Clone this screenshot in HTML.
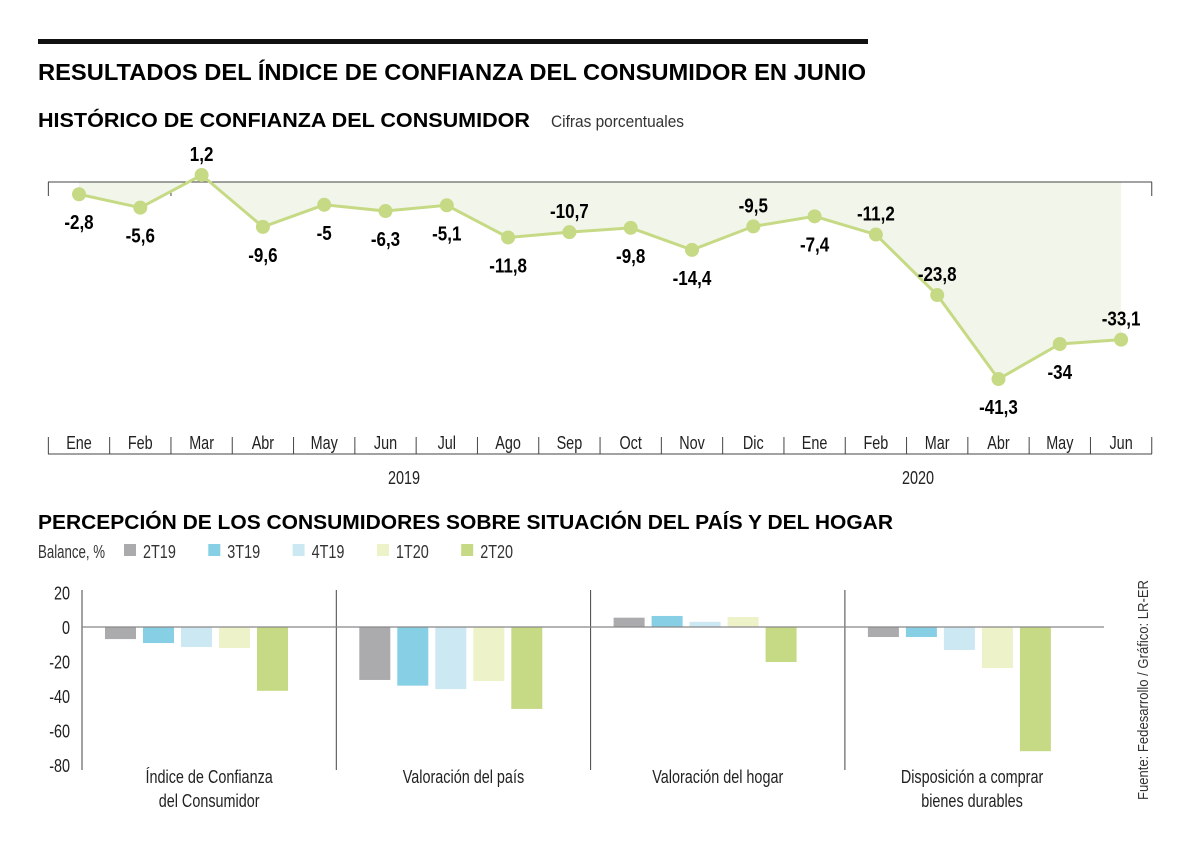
<!DOCTYPE html>
<html><head><meta charset="utf-8"><style>
body{margin:0;background:#fff;width:1200px;height:851px;overflow:hidden;font-family:"Liberation Sans Narrow","Liberation Sans",sans-serif;color:#111}
svg{position:absolute;left:0;top:0}
</style></head><body>
<svg width="1200" height="851" id="s">
<rect x="38" y="39" width="830" height="5" fill="#111"/>
<text x="38" y="80" font-size="23" font-weight="bold" textLength="828" lengthAdjust="spacingAndGlyphs">RESULTADOS DEL ÍNDICE DE CONFIANZA DEL CONSUMIDOR EN JUNIO</text>
<text x="38" y="127" font-size="20" font-weight="bold" textLength="492" lengthAdjust="spacingAndGlyphs">HISTÓRICO DE CONFIANZA DEL CONSUMIDOR</text>
<text x="551" y="127" font-size="17" fill="#333" textLength="133" lengthAdjust="spacingAndGlyphs">Cifras porcentuales</text>
<g id="line"></g>
<text x="38" y="529" font-size="20" font-weight="bold" textLength="855" lengthAdjust="spacingAndGlyphs">PERCEPCIÓN DE LOS CONSUMIDORES SOBRE SITUACIÓN DEL PAÍS Y DEL HOGAR</text>
<text x="38" y="558" font-size="18" fill="#333" textLength="67" lengthAdjust="spacingAndGlyphs">Balance, %</text>
<g id="legend"></g>
<g id="bars"></g>
<text transform="translate(1148,800) rotate(-90)" font-size="15" fill="#333" textLength="220" lengthAdjust="spacingAndGlyphs">Fuente: Fedesarrollo / Gráfico: LR-ER</text>
</svg>
<script>
const months=["Ene","Feb","Mar","Abr","May","Jun","Jul","Ago","Sep","Oct","Nov","Dic","Ene","Feb","Mar","Abr","May","Jun"];
const values=[-2.8,-5.6,1.2,-9.6,-5,-6.3,-5.1,-11.8,-10.7,-9.8,-14.4,-9.5,-7.4,-11.2,-23.8,-41.3,-34,-33.1];
const labelAbove=[0,0,1,0,0,0,0,0,1,0,0,1,0,1,1,0,0,1];
const years=["2019","2020"];
const categories=[["Índice de Confianza","del Consumidor"],["Valoración del país"],["Valoración del hogar"],["Disposición a comprar","bienes durables"]];
const seriesNames=["2T19","3T19","4T19","1T20","2T20"];
const s2T19=[-7,-30.7,5.4,-5.8];
const s3T19=[-9.3,-34,6.4,-5.8];
const s4T19=[-11.6,-36,3,-13.3];
const s1T20=[-12.2,-31.3,5.8,-23.8];
const s2T20=[-37,-47.5,-20.3,-72];
const barTicks=[20,0,-20,-40,-60,-80];
const colors=["#abaaad","#87cfe5","#cce8f2","#edf2c8","#c6da85"];
const NS="http://www.w3.org/2000/svg";
function mk(p,t,a,txt){const e=document.createElementNS(NS,t);for(const k in a)e.setAttribute(k,a[k]);if(txt!==undefined)e.textContent=txt;p.appendChild(e);return e;}
function narrow(t,f){try{const w=t.getComputedTextLength();t.setAttribute('textLength',w*f);t.setAttribute('lengthAdjust','spacingAndGlyphs');}catch(e){}}
const L=document.getElementById('line');
const lx=i=>79+i*61.3, ly=v=>180.8-v*4.8;
mk(L,'line',{x1:48,x2:1152,y1:454,y2:454,stroke:'#444','stroke-width':1});
for(let i=0;i<=months.length;i++){const x=lx(i)-30.65;
 mk(L,'line',{x1:x,x2:x,y1:182,y2:196,stroke:'#444'});
 mk(L,'line',{x1:x,x2:x,y1:437,y2:454,stroke:'#444'});}
let pts=values.map((v,i)=>lx(i)+','+ly(v)).join(' ');
const area=mk(L,'polygon',{points:lx(0)+',182 '+pts+' '+lx(values.length-1)+',182',fill:'#f2f6ea'});

mk(L,'line',{x1:48,x2:1152,y1:182,y2:182,stroke:'#444','stroke-width':1});
const pl=mk(L,'polyline',{points:pts,fill:'none',stroke:'#c6da85','stroke-width':3});

values.forEach((v,i)=>{const c=mk(L,'circle',{cx:lx(i),cy:ly(v),r:7,fill:'#c6da85'});
 
 const t=mk(L,'text',{x:lx(i),y:labelAbove[i]?ly(v)-14:ly(v)+35,'font-size':20,'font-weight':'bold','text-anchor':'middle'},String(v).replace('.',','));
 
 narrow(t,0.85);
 const m=mk(L,'text',{x:lx(i),y:449,'font-size':18,'text-anchor':'middle',fill:'#222'},months[i]);
 
 narrow(m,0.8);});
years.forEach((y,j)=>{const t=mk(L,'text',{x:j?918:404,y:484,'font-size':18,'text-anchor':'middle',fill:'#222'},y);
 narrow(t,0.8);});
const G=document.getElementById('legend');
seriesNames.forEach((n,i)=>{const x=124+i*84.3;
 const r=mk(G,'rect',{x:x,y:544,width:12,height:12,fill:colors[i]});
 
 const t=mk(G,'text',{x:x+19,y:558,'font-size':18,fill:'#333'},n);
 narrow(t,0.8);});
const B=document.getElementById('bars');
const by=v=>627-v*1.725;
const series=[s2T19,s3T19,s4T19,s1T20,s2T20];
barTicks.forEach(v=>{const t=mk(B,'text',{x:70,y:by(v)+7,'font-size':18,'text-anchor':'end',fill:'#222'},v);
 narrow(t,0.8);});
const gw=254.3;
for(let g=0;g<categories.length;g++){const x0=82+g*gw;
 series.forEach((s,k)=>{const v=s[g];const y=Math.min(by(v),by(0));
  const r=mk(B,'rect',{x:x0+23+k*38,y:y,width:31,height:Math.abs(by(v)-by(0)),fill:colors[k]});
  });
 categories[g].forEach((ln,j)=>{const t=mk(B,'text',{x:x0+gw/2,y:783+j*24,'font-size':18,'text-anchor':'middle',fill:'#222'},ln);
  narrow(t,0.8);});}
for(let g=0;g<categories.length;g++){const x=82+g*gw;mk(B,'line',{x1:x,x2:x,y1:590,y2:770,stroke:'#444'});}
mk(B,'line',{x1:82,x2:1104,y1:627,y2:627,stroke:'#888','stroke-width':1.2});
</script>
</body></html>
